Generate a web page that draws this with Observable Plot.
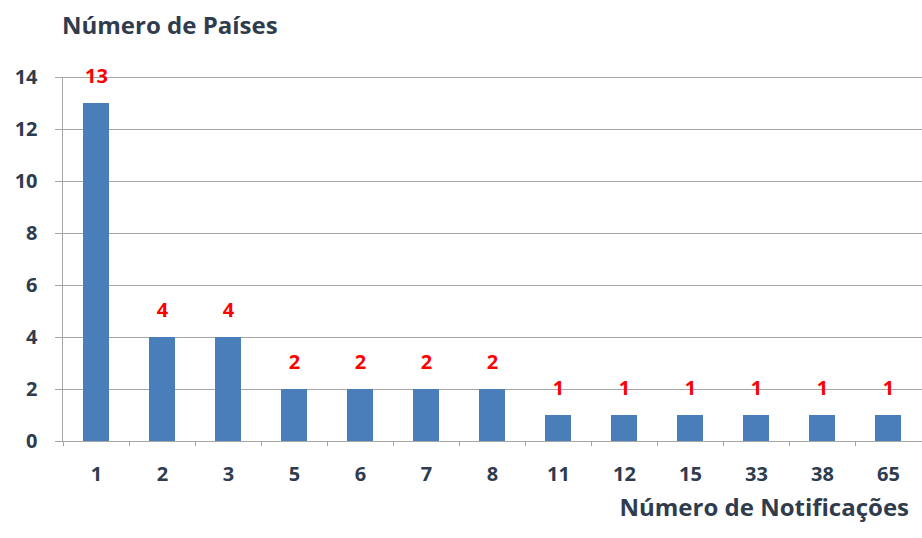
<!DOCTYPE html>
<html>
<head>
<meta charset="utf-8">
<script src="https://cdn.jsdelivr.net/npm/d3@7"></script>
<script src="https://cdn.jsdelivr.net/npm/@observablehq/plot@0.6"></script>
<style>
  html, body { margin: 0; padding: 0; background: #fff; }
  #wrap { position: relative; width: 922px; height: 538px; font-family: "Open Sans", Lato, sans-serif; }
  .ttl { position: absolute; font-weight: 700; color: #2f3c4e; font-size: 24px; line-height: 1; white-space: nowrap; }
  #ytitle { left: 62px; top: 13px; }
  #xtitle { right: 13px; top: 495px; }
</style>
</head>
<body>
<div id="wrap">
  <div id="chart"></div>
  <div class="ttl" id="ytitle">Número de Países</div>
  <div class="ttl" id="xtitle">Número de Notificações</div>
</div>
<script>
const categories = ["1", "2", "3", "5", "6", "7", "8", "11", "12", "15", "33", "38", "65"];
const values = [13, 4, 4, 2, 2, 2, 2, 1, 1, 1, 1, 1, 1];
const yTicks = [0, 2, 4, 6, 8, 10, 12, 14];

const data = categories.map((c, i) => ({cat: c, value: values[i]}));

const textColor = "#2f3c4e";
const barColor = "#4a7ebb";

const chart = Plot.plot({
  width: 922,
  height: 538,
  marginLeft: 62,
  marginRight: 0,
  marginTop: 77,
  marginBottom: 97,
  style: {fontFamily: "'Open Sans', Lato, sans-serif", background: "#fff"},
  x: {domain: categories, paddingInner: 0.6, paddingOuter: 0.3, align: 0.5},
  y: {domain: [0, 14]},
  marks: [
    Plot.ruleY(yTicks, {stroke: "#a6a6a6", strokeWidth: 1, insetLeft: -7}),
    Plot.ruleX(categories, {x: d => d, y1: 0, y2: -0.2, dx: -33, stroke: "#a6a6a6"}),
    Plot.frame({anchor: "left", stroke: "#a6a6a6"}),
    Plot.barY(data, {x: "cat", y: "value", fill: barColor}),
    Plot.text(data, {x: "cat", y: "value", text: d => String(d.value), dy: -27, fill: "#ff0000", fontSize: 20, fontWeight: 700}),
    Plot.axisY({ticks: yTicks, tickSize: 0, tickPadding: 25, fontSize: 20, fontWeight: 700, color: textColor, label: null}),
    Plot.axisX({tickSize: 0, tickPadding: 25, fontSize: 20, fontWeight: 700, color: textColor, label: null})
  ]
});
document.getElementById("chart").appendChild(chart);
</script>
</body>
</html>
